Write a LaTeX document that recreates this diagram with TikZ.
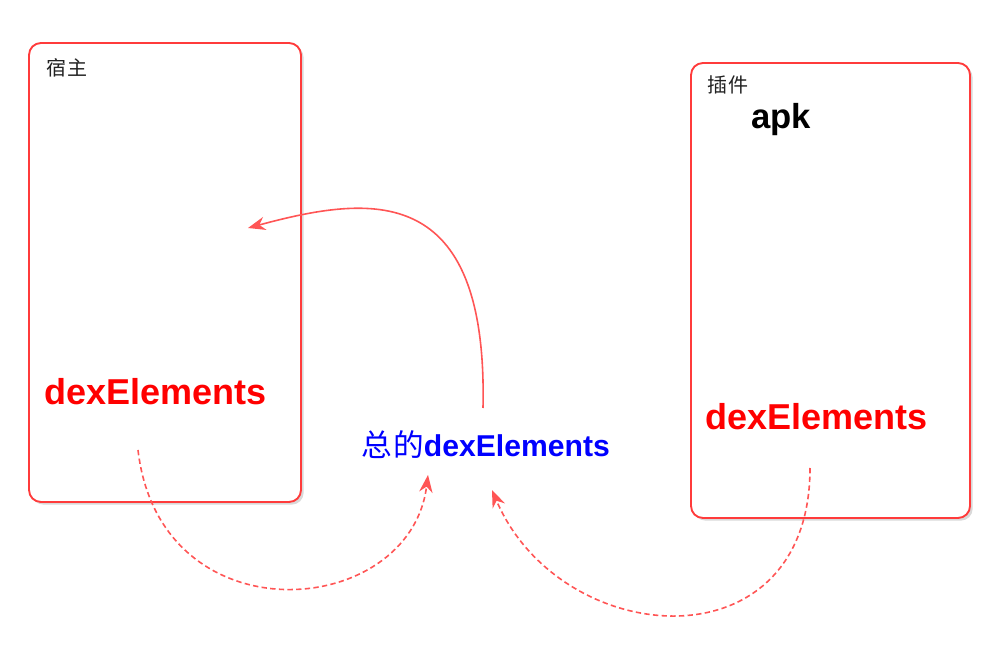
\documentclass[tikz,border=0pt]{standalone}
\usepackage{fontspec}
\setmainfont{Liberation Sans}
\newfontfamily\cjk{Noto Sans CJK SC}
\usetikzlibrary{arrows.meta,shadows}
\definecolor{boxred}{HTML}{FF3B3B}
\definecolor{arrred}{HTML}{FF5555}
\definecolor{lbl}{HTML}{222222}
\tikzset{
  hostbox/.style={draw=boxred, line width=1.4pt, rounded corners=9pt, fill=white,
    drop shadow={opacity=0.3, shadow xshift=2pt, shadow yshift=-2pt}, inner sep=0pt},
  smalllbl/.style={font=\cjk\fontsize{15}{17}\selectfont, text=lbl, anchor=base west, inner sep=0pt},
  dexlbl/.style={font=\bfseries\fontsize{27}{30}\selectfont, text=red, anchor=base west, inner sep=0pt},
  conn/.style={draw=arrred, line width=1.2pt, -{Stealth[length=13pt,width=10pt]}},
  dconn/.style={conn, dash pattern=on 4pt off 2.5pt},
}
\begin{document}
\begin{tikzpicture}[x=0.75pt,y=-0.75pt]
\useasboundingbox (0,0) rectangle (1007,648);
\node[hostbox, minimum width=272*0.75pt, minimum height=459*0.75pt] (host) at (165,272.5) {};
\node[hostbox, minimum width=279*0.75pt, minimum height=455*0.75pt] (plugin) at (830.5,290.5) {};
\node[smalllbl] (hostlbl) at (46,76) {宿\kern1pt 主};
\node[smalllbl] (pluginlbl) at (707,93) {插\kern1pt 件};
\node[font=\bfseries\fontsize{26}{30}\selectfont, anchor=base west, inner sep=0pt] (apk) at (751,129) {apk};
\node[dexlbl] (hostdex) at (44,405) {dexElements};
\node[dexlbl] (plugindex) at (705,430) {dexElements};
\node[anchor=base west, inner sep=0pt, text=blue] (total) at (361,457)
  {{\cjk\fontsize{23}{26}\selectfont 总\kern1pt 的}{\bfseries\fontsize{22.6}{26}\selectfont dexElements}};
\coordinate (s1) at (483,408);
\coordinate (e1) at (248,228);
\coordinate (s2) at (138,450);
\coordinate (e2) at (428,475);
\coordinate (s3) at (810,468);
\coordinate (e3) at (492,490);
\draw[conn] (s1) .. controls (488,180) and (370,195) .. (e1);
\draw[dconn] (s2) .. controls (160,640) and (410,620) .. (e2);
\draw[dconn] (s3) .. controls (810,670) and (560,650) .. (e3);
\end{tikzpicture}
\end{document}
